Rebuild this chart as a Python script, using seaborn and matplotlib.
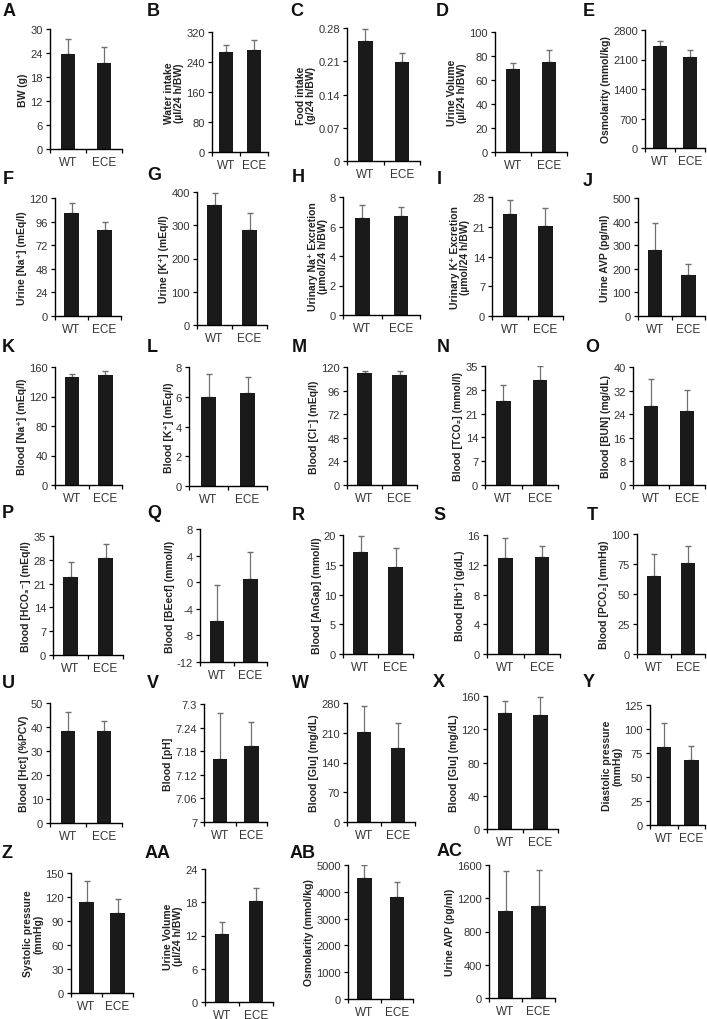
import matplotlib
matplotlib.use("Agg")
import matplotlib.pyplot as plt
import seaborn as sns
import pandas as pd

sns.set_style("ticks")
plt.rcParams['font.family'] = ['Liberation Sans', 'DejaVu Sans']

# ---------------- data ----------------
groups = ["WT", "ECE"]
panels = ["A", "B", "C", "D", "E", "F", "G", "H", "I", "J", "K", "L", "M", "N", "O",
          "P", "Q", "R", "S", "T", "U", "V", "W", "X", "Y", "Z", "AA", "AB", "AC"]
ylabels = [
    "BW (g)", "Water intake\n(µl/24 h/BW)", "Food intake\n(g/24 h/BW)",
    "Urine Volume\n(µl/24 h/BW)", "Osmolarity (mmol/kg)",
    "Urine [Na⁺] (mEq/l)", "Urine [K⁺] (mEq/l)",
    "Urinary Na⁺ Excretion\n(µmol/24 h/BW)", "Urinary K⁺ Excretion\n(µmol/24 h/BW)",
    "Urine AVP (pg/ml)",
    "Blood [Na⁺] (mEq/l)", "Blood [K⁺] (mEq/l)", "Blood [Cl⁻] (mEq/l)",
    "Blood [TCO₂] (mmol/l)", "Blood [BUN] (mg/dL)",
    "Blood [HCO₃⁻] (mEq/l)", "Blood [BEecf] (mmol/l)", "Blood [AnGap] (mmol/l)",
    "Blood [Hb⁺] (g/dL)", "Blood [PCO₂] (mmHg)",
    "Blood [Hct] (%PCV)", "Blood [pH]", "Blood [Glu] (mg/dL)", "Blood [Glu] (mg/dL)",
    "Diastolic pressure\n(mmHg)",
    "Systolic pressure\n(mmHg)", "Urine Volume\n(µl/24 h/BW)", "Osmolarity (mmol/kg)",
    "Urine AVP (pg/ml)",
]
wt_mean = [23.7, 268, 0.252, 69.4, 2428, 104.7, 362, 6.57, 24.1, 280,
           147, 5.97, 113.9, 24.8, 26.7, 22.9, -5.9, 17.2, 12.97, 65.3,
           38.2, 7.160, 212.6, 139.5, 80.8, 114.1, 12.3, 4515, 1044]
wt_err = [3.7, 18, 0.025, 4.8, 119, 10.2, 35, 0.86, 3.1, 112,
          3, 1.58, 2.3, 4.7, 9.1, 4.6, 5.5, 2.6, 2.68, 18,
          7.9, 0.118, 61, 14, 25, 26.3, 2.2, 485, 480]
ece_mean = [21.5, 271, 0.208, 75.0, 2168, 87.0, 285, 6.68, 21.2, 172,
            148.6, 6.25, 111.4, 30.75, 25.0, 28.6, 0.5, 14.7, 13.05, 75.8,
            38.5, 7.192, 173.7, 136.6, 67.9, 100.0, 18.3, 3818, 1104]
ece_err = [4.1, 27, 0.019, 9.7, 152, 8.6, 53, 0.64, 4.2, 47,
           6, 1.08, 4.1, 4.25, 7.3, 4.1, 4.1, 3.1, 1.45, 14.5,
           4.1, 0.062, 58.6, 22.5, 14.6, 17.5, 2.2, 560, 440]
yticks = [
    [0, 6, 12, 18, 24, 30], [0, 80, 160, 240, 320], [0, 0.07, 0.14, 0.21, 0.28],
    [0, 20, 40, 60, 80, 100], [0, 700, 1400, 2100, 2800],
    [0, 24, 48, 72, 96, 120], [0, 100, 200, 300, 400], [0, 2, 4, 6, 8],
    [0, 7, 14, 21, 28], [0, 100, 200, 300, 400, 500],
    [0, 40, 80, 120, 160], [0, 2, 4, 6, 8], [0, 24, 48, 72, 96, 120],
    [0, 7, 14, 21, 28, 35], [0, 8, 16, 24, 32, 40],
    [0, 7, 14, 21, 28, 35], [-12, -8, -4, 0, 4, 8], [0, 5, 10, 15, 20],
    [0, 4, 8, 12, 16], [0, 25, 50, 75, 100],
    [0, 10, 20, 30, 40, 50], [7, 7.06, 7.12, 7.18, 7.24, 7.3], [0, 70, 140, 210, 280],
    [0, 40, 80, 120, 160], [0, 25, 50, 75, 100, 125],
    [0, 30, 60, 90, 120, 150], [0, 6, 12, 18, 24], [0, 1000, 2000, 3000, 4000, 5000],
    [0, 400, 800, 1200, 1600],
]

# ---------------- layout (pixels: axis left, right, top, bottom) ----------------
W, H = 707, 1020
boxes = [
    (50, 122, 30, 150), (212, 268, 33, 153), (347, 420, 29, 162), (495, 567, 33, 153), (645, 705, 31, 149),
    (55, 121, 199, 317), (197, 267, 193, 326), (343, 420, 198, 316), (492, 563, 198, 317), (638, 705, 199, 317),
    (55, 122, 368, 486), (189, 267, 368, 487), (347, 417, 368, 486), (485, 558, 367, 486), (633, 705, 368, 486),
    (53, 123, 537, 656), (200, 267, 530, 663), (343, 413, 536, 655), (487, 560, 536, 655), (637, 705, 535, 655),
    (50, 122, 704, 824), (204, 267, 705, 823), (347, 415, 704, 823), (487, 558, 697, 830), (650, 705, 706, 826),
    (71, 133, 874, 994), (205, 273, 870, 1003), (348, 413, 866, 1000), (489, 555, 866, 999),
]
letter_pos = [
    (3, 12), (147, 12), (290, 12), (436, 12), (583, 12),
    (3, 179), (147, 175), (292, 178), (437, 180), (583, 182),
    (2, 347), (147, 347), (292, 347), (437, 347), (585, 348),
    (2, 514), (147, 513), (292, 515), (433, 515), (587, 515),
    (2, 684), (147, 684), (292, 684), (433, 683), (583, 683),
    (2, 854), (145, 854), (290, 854), (437, 851),
]

fig = plt.figure(figsize=(W / 100, H / 100), dpi=100)
bar_px = 14.5

for i, p in enumerate(panels):
    l, r, t, b = boxes[i]
    ax = fig.add_axes([l / W, 1 - b / H, (r - l) / W, (b - t) / H])
    df = pd.DataFrame({"group": groups, "value": [wt_mean[i], ece_mean[i]]})
    width = bar_px / ((r - l) / 2.0)
    sns.barplot(data=df, x="group", y="value", color="#1a1a1a", saturation=1,
                width=width, errorbar=None, ax=ax, zorder=2)
    base = yticks[i][0]
    if base != 0:
        for patch in ax.patches:
            top = patch.get_height()
            patch.set_y(base)
            patch.set_height(top - base)
    for patch in ax.patches:
        patch.set_edgecolor("#1a1a1a")
        patch.set_linewidth(0)
    ax.errorbar([0, 1], [wt_mean[i], ece_mean[i]],
                yerr=[[0, 0], [wt_err[i], ece_err[i]]], fmt="none",
                ecolor="#707070", elinewidth=0.9, capsize=2.2, capthick=1.0, zorder=1)
    ax.set_ylim(yticks[i][0], yticks[i][-1])
    ax.set_xlim(-0.5, 1.5)
    ax.set_yticks(yticks[i])
    ax.set_yticklabels([f"{v:g}" for v in yticks[i]])
    ax.set_xticks([0, 1])
    ax.set_xticklabels(groups)
    ax.set_xticks([-0.5, 0.5, 1.5], minor=True)
    ax.tick_params(axis="x", which="major", length=0, pad=5, labelsize=8.5, labelcolor="#333333")
    ax.tick_params(axis="x", which="minor", length=3, width=0.9, direction="out", color="black")
    ax.tick_params(axis="y", length=3, width=0.9, pad=2, labelsize=8, labelcolor="#333333", color="black")
    ax.set_xlabel("")
    ax.set_ylabel(ylabels[i], fontsize=7.5, fontweight="bold", labelpad=1.5, color="#222222",
                  linespacing=1.0)
    for s in ["top", "right"]:
        ax.spines[s].set_visible(False)
    for s in ["left", "bottom"]:
        ax.spines[s].set_linewidth(1.0)
        ax.spines[s].set_color("black")
    ax.set_facecolor("none")
    lx, ly = letter_pos[i]
    fig.text(lx / W, 1 - ly / H, p, fontsize=13, fontweight="bold", ha="left", va="center",
             color="#111111")

fig.savefig("out.png", dpi=100)
